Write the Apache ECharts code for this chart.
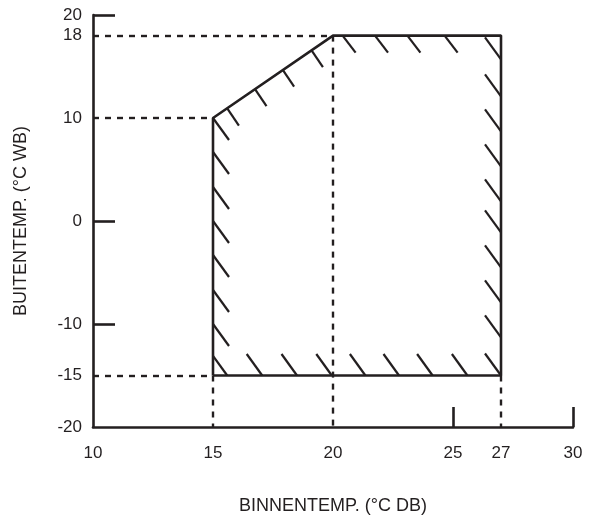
<!DOCTYPE html>
<html>
<head>
<meta charset="utf-8">
<script src="https://cdn.jsdelivr.net/npm/echarts@6.0.0/dist/echarts.min.js"></script>
<style>
html, body { margin: 0; padding: 0; background: #ffffff; }
#chart { width: 590px; height: 515px; }
</style>
</head>
<body>
<div id="chart"></div>
<script>
// operating range outline (indoor DB, outdoor WB)
const outlineX = [15, 15, 20, 27, 27, 15]
const outlineY = [-15, 10, 18, 18, -15, -15]

// tick labels and tick marks
const xLabels = [10, 15, 20, 25, 27, 30]
const xTicks = [25, 30]
const yLabels = [20, 18, 10, 0, -10, -15, -20]
const yTicks = [20, 0, -10]

// dashed guide lines: from / to points
const guideFrom = [[10, 18], [10, 10], [10, -15], [15, -15], [20, 18], [27, -15]]
const guideTo = [[20, 18], [15, 10], [15, -15], [15, -20], [20, -20], [27, -20]]

// hatch anchor points
const hatchLeftY = [10, 6.7, 3.3, 0, -3.3, -6.7, -10, -13.1]
const hatchDiagX = [15.6, 16.75, 17.9, 19.1]
const hatchDiagY = [10.9, 12.8, 14.7, 16.6]
const hatchTopX = [20.4, 21.75, 23.1, 24.65]
const hatchRightY = [15.7, 12.1, 8.7, 5.3, 1.9, -1.1, -4.5, -7.9, -11.3, -15]
const hatchBottomX = [17.05, 18.5, 19.95, 21.35, 22.75, 24.15, 25.6]

const ink = '#231f20'
const font = "'Liberation Sans', Arial, Helvetica, sans-serif"

function hatchSeries(points, dx, dy, fromEnd){
    return {
        type: 'custom',
        clip: false,
        silent: true,
        data: points,
        renderItem: function(params, api){
            const p = api.coord([api.value(0), api.value(1)])
            const floor = api.coord([15, -15])[1]
            let x1 = p[0], y1 = p[1], x2 = p[0] + dx, y2 = p[1] + dy
            if(fromEnd){
                x1 = p[0] - dx; y1 = p[1] - dy; x2 = p[0]; y2 = p[1]
            }else if(y2 > floor){
                const k = (floor - y1) / dy
                x2 = x1 + dx * k; y2 = floor
            }
            return {
                type: 'line',
                shape: {x1: x1, y1: y1, x2: x2, y2: y2},
                style: {stroke: ink, lineWidth: 2.2}
            }
        }
    }
}

const chart = echarts.init(document.getElementById('chart'))
chart.setOption({
    backgroundColor: '#ffffff',
    animation: false,
    textStyle: {fontFamily: font},
    grid: {left: 93, right: 17, top: 15, bottom: 88, containLabel: false, outerBoundsMode: 'none'},
    xAxis: {
        type: 'value',
        min: 10, max: 30,
        name: 'BINNENTEMP. (°C DB)',
        nameLocation: 'middle',
        nameGap: 70,
        nameTextStyle: {fontSize: 18, color: ink, fontFamily: font},
        axisLine: {show: true, onZero: false, lineStyle: {color: ink, width: 2.6}},
        axisTick: {show: true, inside: true, length: 20, customValues: xTicks, lineStyle: {color: ink, width: 2.6}},
        axisLabel: {customValues: xLabels, fontSize: 17, color: ink, margin: 18, fontFamily: font},
        splitLine: {show: false}
    },
    yAxis: {
        type: 'value',
        min: -20, max: 20,
        name: 'BUITENTEMP. (°C WB)',
        nameLocation: 'middle',
        nameGap: 63,
        nameTextStyle: {fontSize: 18, color: ink, fontFamily: font},
        axisLine: {show: true, onZero: false, lineStyle: {color: ink, width: 2.6}},
        axisTick: {show: true, inside: true, length: 22, customValues: yTicks, lineStyle: {color: ink, width: 2.6}},
        axisLabel: {customValues: yLabels, fontSize: 17, color: ink, margin: 11, fontFamily: font},
        splitLine: {show: false}
    },
    series: [
        {
            type: 'line',
            data: outlineX.map((x, i) => [x, outlineY[i]]),
            symbol: 'none',
            lineStyle: {color: ink, width: 2.6},
            z: 5,
            markLine: {
                silent: true,
                symbol: 'none',
                label: {show: false},
                lineStyle: {color: ink, width: 2.4, type: [6, 6]},
                data: guideFrom.map((a, i) => [{coord: a}, {coord: guideTo[i]}])
            }
        },
        hatchSeries(hatchLeftY.map(y => [15, y]), 16, 22, false),
        hatchSeries(hatchDiagX.map((x, i) => [x, hatchDiagY[i]]), 11.5, 17, false),
        hatchSeries(hatchTopX.map(x => [x, 18]), 13, 17, false),
        hatchSeries(hatchRightY.map(y => [27, y]), 16, 22, true),
        hatchSeries(hatchBottomX.map(x => [x, -15]), 15.5, 21.5, true)
    ]
})
</script>
</body>
</html>
